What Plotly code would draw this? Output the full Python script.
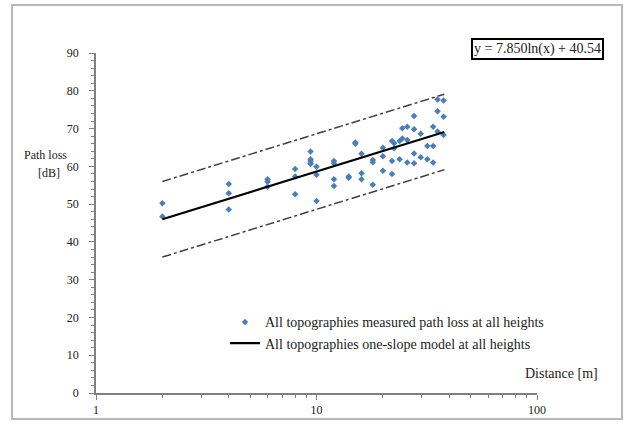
import plotly.graph_objects as go

# measured points (distance m, path loss dB)
dist = [2, 2,
        4, 4, 4,
        6, 6, 6,
        8, 8, 8,
        9.4, 9.4, 9.4, 9.4, 9.4,
        10, 10, 10,
        12, 12, 12, 12,
        14, 14,
        15, 15,
        16, 16, 16,
        18, 18, 18,
        20, 20, 20,
        22, 22, 22,
        22.5, 22.5,
        23.8, 23.8,
        24.5, 24.5,
        25.8, 25.8, 25.8,
        27.7, 27.7, 27.7, 27.7,
        29.7, 29.7,
        31.8, 31.8,
        33.8, 33.8, 33.8,
        35.4, 35.4, 35.4,
        37.7, 37.7, 37.7]
loss = [50.2, 46.7,
        55.3, 52.9, 48.6,
        56.6, 55.9, 54.6,
        59.3, 57.3, 52.6,
        63.9, 61.9, 61.4, 60.8, 60.6,
        59.9, 57.8, 50.8,
        61.4, 60.8, 56.6, 54.8,
        57.3, 57.0,
        66.3, 66.0,
        63.3, 58.2, 56.6,
        61.7, 61.1, 55.1,
        64.9, 62.7, 58.8,
        66.7, 61.4, 58.0,
        66.1, 64.8,
        66.7, 61.9,
        70.1, 67.4,
        70.5, 67.0, 61.0,
        73.3, 69.8, 63.4, 60.8,
        68.6, 62.4,
        65.4, 61.9,
        70.5, 65.4, 61.0,
        77.7, 74.6, 69.2,
        77.4, 73.1, 68.3]

# one-slope model y = 7.850ln(x) + 40.54 and +/-10 dB bounds (endpoints)
fit_x = [2, 38]
fit_y = [45.98, 69.10]
upper_y = [55.98, 79.10]
lower_y = [35.98, 59.10]

y_ticks = [0, 10, 20, 30, 40, 50, 60, 70, 80, 90]
x_ticks = [1, 10, 100]

serif = "Liberation Serif"
blue = "rgb(74,126,187)"
txt = "#222"

fig = go.Figure()
fig.add_trace(go.Scatter(x=fit_x, y=upper_y, mode="lines", showlegend=False,
                         line=dict(color="#404040", width=1.5, dash="dashdot")))
fig.add_trace(go.Scatter(x=fit_x, y=lower_y, mode="lines", showlegend=False,
                         line=dict(color="#404040", width=1.5, dash="dashdot")))
fig.add_trace(go.Scatter(x=dist, y=loss, mode="markers",
                         name="All topographies measured path loss at all heights",
                         marker=dict(symbol="diamond", size=5, color=blue)))
fig.add_trace(go.Scatter(x=fit_x, y=fit_y, mode="lines",
                         name="All topographies one-slope model at all heights",
                         line=dict(color="black", width=2.2)))

fig.update_layout(
    width=634, height=430,
    margin=dict(l=96, r=97, t=53, b=37),
    paper_bgcolor="white", plot_bgcolor="white",
    font=dict(family=serif, size=12, color=txt),
    legend=dict(x=0.2925, y=0.255, xanchor="left", yanchor="top",
                bgcolor="rgba(0,0,0,0)", font=dict(family=serif, size=14, color=txt),
                tracegroupgap=0, itemwidth=30),
    xaxis=dict(type="log", range=[0, 2], tickvals=x_ticks, ticktext=[str(v) for v in x_ticks],
               showgrid=False, zeroline=False, showline=True, linecolor="#808080", linewidth=2,
               ticks="outside", ticklen=5, tickcolor="#808080",
               minor=dict(ticks="outside", ticklen=3, tickcolor="#808080", dtick="D1"),
               tickfont=dict(family=serif, size=12, color=txt)),
    yaxis=dict(range=[0, 90], tickvals=y_ticks, showgrid=False, zeroline=False,
               showline=True, linecolor="#808080", linewidth=1.5,
               ticks="outside", ticklen=5, tickcolor="#808080", ticklabelstandoff=8,
               minor=dict(ticks="outside", ticklen=3, tickcolor="#808080", dtick=2),
               tickfont=dict(family=serif, size=12, color=txt)),
)

fig.add_annotation(xref="paper", yref="paper", x=(45 - 96) / 441, y=(393 - 155) / 340,
                   xanchor="center", yanchor="middle",
                   text="Path loss", showarrow=False,
                   font=dict(family=serif, size=12, color=txt))
fig.add_annotation(xref="paper", yref="paper", x=(49 - 96) / 441, y=(393 - 173) / 340,
                   xanchor="center", yanchor="middle",
                   text="[dB]", showarrow=False,
                   font=dict(family=serif, size=12, color=txt))
fig.add_annotation(xref="paper", yref="paper", x=(600 - 96) / 441, y=(393 - 373) / 340,
                   xanchor="right", yanchor="middle", text="Distance [m]", showarrow=False,
                   font=dict(family=serif, size=14, color=txt))
fig.add_annotation(xref="paper", yref="paper", x=(537 - 96) / 441, y=(393 - 49) / 340,
                   xanchor="center", yanchor="middle",
                   text="y = 7.850ln(x) + 40.54", showarrow=False,
                   bordercolor="black", borderwidth=2, borderpad=1, bgcolor="white",
                   font=dict(family=serif, size=14, color=txt))
fig.add_shape(type="rect", xref="paper", yref="paper",
              x0=(12 - 96) / 441, x1=(622 - 96) / 441,
              y0=(393 - 419) / 340, y1=(393 - 5) / 340,
              line=dict(color="#b8b8b8", width=2))

fig.write_html("out.html")
